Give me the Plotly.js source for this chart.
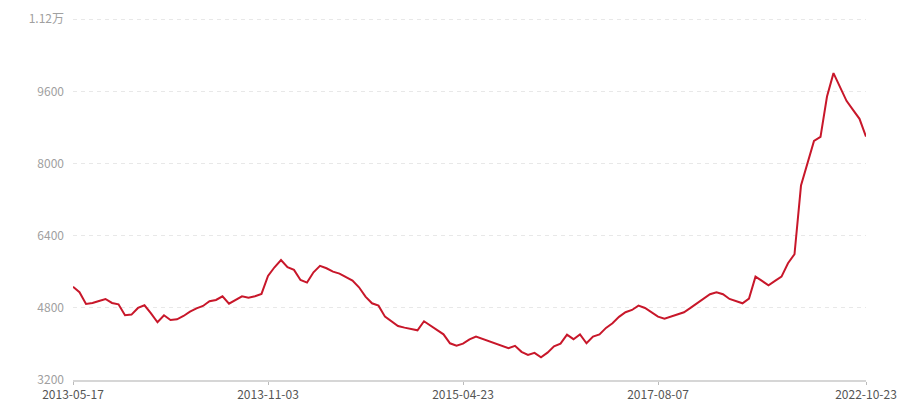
<!DOCTYPE html>
<html>
<head>
<meta charset="utf-8">
<script src="https://cdn.plot.ly/plotly-3.0.1.min.js"></script>
<style>html,body{margin:0;padding:0;background:#fff;}#chart{width:900px;height:400px;}</style>
</head>
<body>
<div id="chart"></div>
<script>
// Point index along the x axis (category positions)
const pointIndex = [];
for (let i = 0; i < 123; i++) pointIndex.push(i);

// Series values
const values = [
  5270, 5146, 4887, 4909, 4953, 4997, 4909, 4879, 4635, 4650,
  4798, 4857, 4679, 4480, 4635, 4531, 4546, 4620, 4716, 4790,
  4842, 4946, 4975, 5057, 4894, 4983, 5057, 5027, 5057, 5108,
  5508, 5700, 5860, 5700, 5641, 5419, 5360, 5589, 5730, 5678,
  5604, 5560, 5486, 5404, 5256, 5049, 4901, 4849, 4605, 4502,
  4398, 4361, 4332, 4302, 4502, 4406, 4310, 4213, 4014, 3962,
  4006, 4102, 4162, 4110, 4058, 4006, 3954, 3903, 3958, 3825,
  3758, 3803, 3703, 3806, 3947, 4005, 4206, 4105, 4210, 4014,
  4162, 4210, 4355, 4458, 4600, 4702, 4753, 4849, 4798, 4702,
  4605, 4561, 4605, 4658, 4702, 4798, 4901, 4997, 5101, 5146,
  5101, 4997, 4946, 4901, 5005, 5493, 5397, 5301, 5397, 5493,
  5789, 5989, 7512, 8008, 8503, 8592, 9487, 10005, 9694, 9391,
  9191, 8992, 8599
];

// X tick labels
const xTickIndex = [0, 30, 60, 90, 122];
const xTickLabels = ['2013-05-17', '2013-11-03', '2015-04-23', '2017-08-07', '2022-10-23'];

// Y tick labels
const yTickValues = [3200, 4800, 6400, 8000, 9600, 11200];
const yTickLabels = ['3200', '4800', '6400', '8000', '9600', '1.12万'];

const font = '"Microsoft YaHei", "Noto Sans CJK SC", "Noto Sans", sans-serif';

Plotly.newPlot('chart', [{
  x: pointIndex,
  y: values,
  type: 'scatter',
  mode: 'lines',
  line: { color: '#c8172a', width: 2 },
  hoverinfo: 'skip'
}], {
  width: 900,
  height: 400,
  margin: { l: 73, r: 34, t: 17, b: 20 },
  paper_bgcolor: '#fff',
  plot_bgcolor: '#fff',
  showlegend: false,
  font: { family: font, size: 12, color: '#999' },
  xaxis: {
    range: [0, 122],
    tickmode: 'array',
    tickvals: xTickIndex,
    ticktext: xTickLabels,
    showgrid: false,
    zeroline: false,
    showline: true,
    linecolor: '#d6d6d6',
    linewidth: 2,
    ticks: 'outside',
    ticklen: 3,
    tickcolor: '#bbb',
    tickfont: { family: font, size: 12, color: '#555' },
    fixedrange: true
  },
  yaxis: {
    range: [3200, 11250],
    tickmode: 'array',
    tickvals: yTickValues,
    ticktext: yTickLabels,
    showgrid: true,
    gridcolor: '#e8e8e8',
    griddash: '4px,4px',
    gridwidth: 1,
    zeroline: false,
    showline: false,
    ticks: '',
    ticklabelstandoff: 8,
    tickfont: { family: font, size: 12, color: '#a0a0a0' },
    fixedrange: true
  }
}, { displayModeBar: false, staticPlot: true });
</script>
</body>
</html>
